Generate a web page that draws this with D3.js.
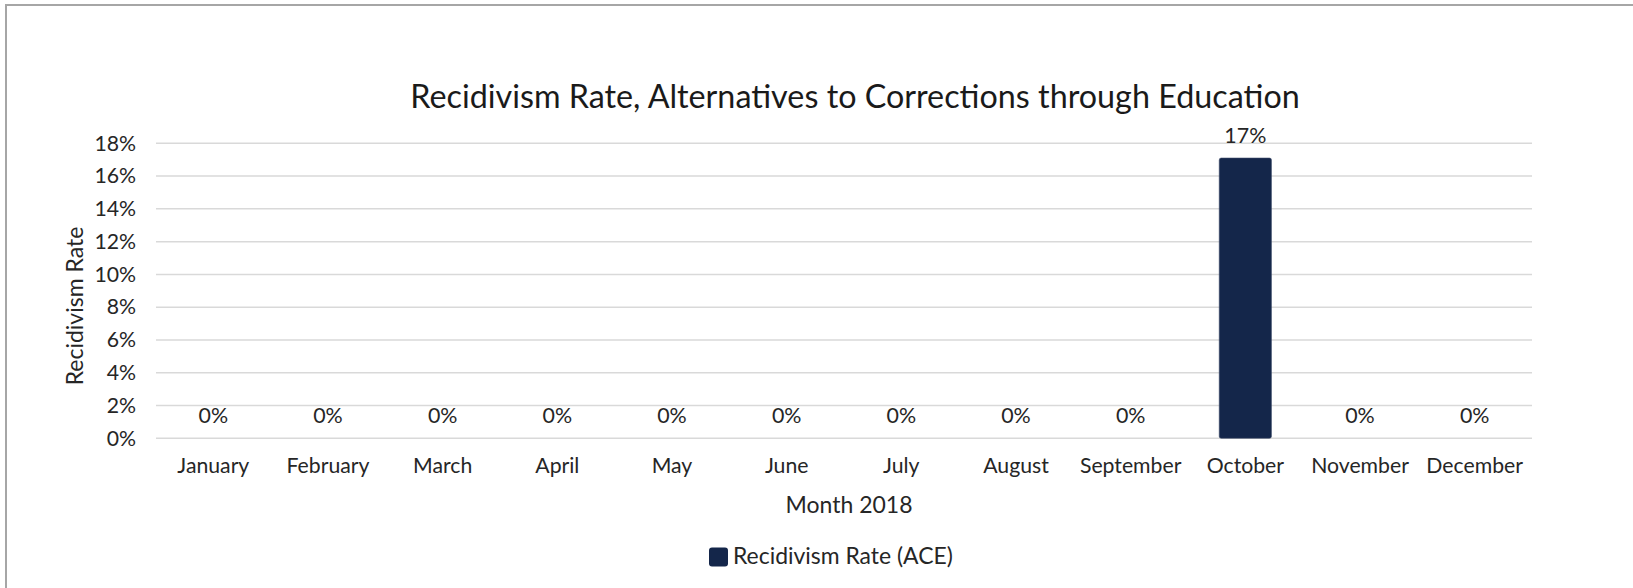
<!DOCTYPE html>
<html>
<head>
<meta charset="utf-8">
<script src="https://cdn.jsdelivr.net/npm/d3@7/dist/d3.min.js"></script>
<style>
  html, body { margin: 0; padding: 0; background: #fff; }
  svg { display: block; }
  text { font-family: Lato, "Noto Sans", sans-serif; }
</style>
</head>
<body>
<svg id="chart" width="1633" height="588"></svg>
<script>
const months = ["January","February","March","April","May","June","July","August","September","October","November","December"];
const rates = [0, 0, 0, 0, 0, 0, 0, 0, 0, 0.171, 0, 0];
const yTicks = [0, 0.02, 0.04, 0.06, 0.08, 0.10, 0.12, 0.14, 0.16, 0.18];
const titleText = "Recidivism Rate, Alternatives to Corrections through Education";
const xTitle = "Month 2018";
const yTitle = "Recidivism Rate";
const seriesName = "Recidivism Rate (ACE)";

const W = 1633, H = 588;
const svg = d3.select("#chart");
const barColor = "#14264a";
const textColor = "#262626";

function fitSize(str, target) {
  const t = svg.append("text").attr("font-size", 100).text(str);
  const len = t.node().getComputedTextLength();
  t.remove();
  return 100 * target / len;
}

const fsTitle = fitSize(titleText, 890);
const fsTick = fitSize("January", 72);
const fsAxisTitle = fitSize(xTitle, 127);
const fsLegend = fitSize(seriesName, 220);
const fsLabel = fitSize("17%", 42);

// outer border
svg.append("rect")
  .attr("x", 6).attr("y", 5)
  .attr("width", W + 20).attr("height", H + 20)
  .attr("fill", "none").attr("stroke", "#a6a6a6").attr("stroke-width", 2);

const x = d3.scaleBand().domain(months).range([156, 1532]).paddingInner(0.545).paddingOuter(0.2725);
const y = d3.scaleLinear().domain([0, 0.18]).range([438.3, 143.3]);

// gridlines
svg.append("g").selectAll("line").data(yTicks).join("line")
  .attr("x1", 156).attr("x2", 1532)
  .attr("y1", d => y(d)).attr("y2", d => y(d))
  .attr("stroke", "#d9d9d9").attr("stroke-width", 1.5);

// y axis labels
const yAxis = d3.axisLeft(y).tickValues(yTicks).tickFormat(d3.format(".0%")).tickSize(0).tickPadding(0);
const gy = svg.append("g").attr("transform", "translate(136,0)").call(yAxis);
gy.select(".domain").remove();
gy.selectAll("text").attr("font-size", fsTick).attr("fill", textColor).attr("font-family", "Lato, 'Noto Sans', sans-serif");

// x axis labels
const xAxis = d3.axisBottom(x).tickSize(0).tickPadding(0);
const gx = svg.append("g").attr("transform", "translate(0,0)").call(xAxis);
gx.select(".domain").remove();
gx.selectAll("text").attr("font-size", fsTick).attr("fill", textColor)
  .attr("font-family", "Lato, 'Noto Sans', sans-serif")
  .attr("y", 473).attr("dy", null);

// bars
svg.append("g").selectAll("rect").data(months).join("rect")
  .attr("x", d => x(d))
  .attr("y", (d, i) => y(rates[i]))
  .attr("width", x.bandwidth())
  .attr("height", (d, i) => y(0) - y(rates[i]))
  .attr("rx", 2)
  .attr("fill", barColor)
  .attr("stroke", "#3a4866").attr("stroke-width", 0.6);

// data labels
svg.append("g").selectAll("text").data(months).join("text")
  .attr("x", d => x(d) + x.bandwidth() / 2)
  .attr("y", (d, i) => y(rates[i]) - 15)
  .attr("text-anchor", "middle")
  .attr("font-size", fsLabel)
  .attr("fill", textColor)
  .text((d, i) => d3.format(".0%")(rates[i]));

// title
svg.append("text")
  .attr("x", 855).attr("y", 108)
  .attr("text-anchor", "middle")
  .attr("font-size", fsTitle)
  .attr("fill", "#1a1a1a")
  .text(titleText);

// x axis title
svg.append("text")
  .attr("x", 849).attr("y", 513)
  .attr("text-anchor", "middle")
  .attr("font-size", fsAxisTitle)
  .attr("fill", textColor)
  .text(xTitle);

// y axis title
svg.append("text")
  .attr("transform", "translate(83,306) rotate(-90)")
  .attr("text-anchor", "middle")
  .attr("font-size", fsAxisTitle)
  .attr("fill", textColor)
  .text(yTitle);

// legend
const lg = svg.append("g");
lg.append("rect")
  .attr("x", 709).attr("y", 547.5)
  .attr("width", 19).attr("height", 19)
  .attr("rx", 3)
  .attr("fill", barColor);
lg.append("text")
  .attr("x", 733).attr("y", 564)
  .attr("font-size", fsLegend)
  .attr("fill", textColor)
  .text(seriesName);
</script>
</body>
</html>
